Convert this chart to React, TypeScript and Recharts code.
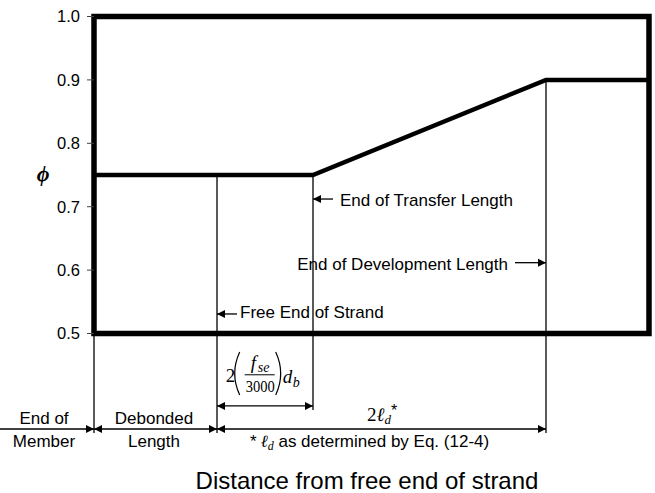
import React from 'react';
import { ComposedChart, Line, XAxis, YAxis, ReferenceArea, ReferenceLine, ReferenceDot } from 'recharts';

// Main phi curve (distance from free end of strand, phi)
const distance = [0, 123, 219, 452, 555];
const phiValues = [0.75, 0.75, 0.75, 0.9, 0.9];
const phiTicks = [0.5, 0.6, 0.7, 0.8, 0.9, 1.0];

// Vertical marker lines: member end, debond end, transfer end, development end
const markerX = [0, 123, 219, 452];
const markerTop = [0.5, 0.75, 0.75, 0.9];
const markerBottom = [0.3431, 0.3431, 0.3794, 0.3431];

// Arrows (data coordinates)
const arrowX1 = [-94, 0, 123, 123, 239, 421, 143];
const arrowX2 = [0, 123, 452, 219, 219, 452, 123];
const arrowY = [0.3494, 0.3494, 0.3494, 0.3857, 0.7121, 0.6117, 0.5308];
const arrowHeads = ['end', 'both', 'both', 'both', 'end', 'end', 'end'];

// Plain text labels
const labelText = ['End of', 'Member', 'Debonded', 'Length', 'End of Transfer Length', 'End of Development Length', 'Free End of Strand', 'Distance from free end of strand'];
const labelX = [-50, -50, 60, 60, 246, 414, 146, 273];
const labelY = [0.3573, 0.321, 0.3573, 0.321, 0.7016, 0.6002, 0.524, 0.2547];
const labelAnchor = ['middle', 'middle', 'middle', 'middle', 'start', 'end', 'start', 'middle'];
const labelSize = [17, 17, 17, 17, 17, 17, 17, 24];

const data = distance.map((d, i) => ({ d, phi: phiValues[i] }));

const SANS = 'Liberation Sans, Arial, sans-serif';
const SERIF = 'Liberation Serif, Times New Roman, serif';

const makeArrow = (heads: string) => (props: any) => {
  const { x1, y1, x2, y2 } = props;
  const dx = x2 - x1;
  const dy = y2 - y1;
  const len = Math.sqrt(dx * dx + dy * dy) || 1;
  const ux = dx / len;
  const uy = dy / len;
  const L = 8;
  const W = 4;
  const head = (px: number, py: number, sx: number, sy: number) => {
    const bx = px - sx * L;
    const by = py - sy * L;
    return (
      <polygon
        points={`${px},${py} ${bx - sy * W},${by + sx * W} ${bx + sy * W},${by - sx * W}`}
        fill="#000"
      />
    );
  };
  return (
    <g>
      <line x1={x1} y1={y1} x2={x2} y2={y2} stroke="#000" strokeWidth={1.3} />
      {(heads === 'end' || heads === 'both') && head(x2, y2, ux, uy)}
      {(heads === 'start' || heads === 'both') && head(x1, y1, -ux, -uy)}
    </g>
  );
};

const makeText = (text: string, anchor: string, size: number) => (props: any) => (
  <text x={props.cx} y={props.cy} textAnchor={anchor as any} fontFamily={SANS} fontSize={size} fill="#000">
    {text}
  </text>
);

const PhiLabel = (props: any) => (
  <text x={props.cx} y={props.cy} textAnchor="middle" fontFamily={SERIF} fontStyle="italic" fontWeight="bold" fontSize={22} fill="#000">
    ϕ
  </text>
);

const Formula = (props: any) => {
  const x = props.cx;
  const y = props.cy;
  return (
    <g fill="#000" fontFamily={SERIF}>
      <text x={x - 1} y={y + 1} fontSize={19}>2</text>
      <path d={`M${x + 13},${y - 29} Q${x + 3},${y - 7.5} ${x + 13},${y + 14}`} stroke="#000" strokeWidth={1.2} fill="none" />
      <path d={`M${x + 49},${y - 29} Q${x + 59},${y - 7.5} ${x + 49},${y + 14}`} stroke="#000" strokeWidth={1.2} fill="none" />
      <text x={x + 24} y={y - 12} fontSize={19} fontStyle="italic">f</text>
      <text x={x + 31} y={y - 9} fontSize={14} fontStyle="italic">se</text>
      <line x1={x + 18} y1={y - 6.2} x2={x + 48} y2={y - 6.2} stroke="#000" strokeWidth={1} />
      <text x={x + 19} y={y + 11} fontSize={16} textLength={29} lengthAdjust="spacingAndGlyphs">3000</text>
      <text x={x + 56} y={y + 2} fontSize={19} fontStyle="italic">d</text>
      <text x={x + 66} y={y + 6} fontSize={14} fontStyle="italic">b</text>
    </g>
  );
};

const TwoLd = (props: any) => {
  const x = props.cx;
  const y = props.cy;
  return (
    <text x={x} y={y} fontFamily={SERIF} fontSize={19} fill="#000">
      2<tspan fontStyle="italic">ℓ</tspan>
      <tspan fontStyle="italic" fontSize={13} dy={3}>d</tspan>
      <tspan fontFamily={SANS} fontSize={16} dy={-8}>*</tspan>
    </text>
  );
};

const Footnote = (props: any) => {
  const x = props.cx;
  const y = props.cy;
  return (
    <text x={x} y={y} fontFamily={SANS} fontSize={17} fill="#000">
      *<tspan dx={4} fontFamily={SERIF} fontStyle="italic">ℓ</tspan>
      <tspan fontFamily={SERIF} fontStyle="italic" fontSize={12} dy={3}>d</tspan>
      <tspan dy={-3}> as determined by Eq. (12-4)</tspan>
    </text>
  );
};

export default function App() {
  return (
    <div style={{ position: 'fixed', left: 0, top: 0, width: 655, height: 493, background: '#fff' }}>
      <ComposedChart
        width={655}
        height={493}
        data={data}
        margin={{ top: 16.5, right: 6, bottom: 159.5, left: 34 }}
      >
        <XAxis dataKey="d" type="number" domain={[0, 555]} hide />
        <YAxis
          type="number"
          domain={[0.5, 1.0]}
          ticks={phiTicks}
          tickFormatter={(v: number) => v.toFixed(1)}
          width={60}
          axisLine={false}
          tickLine={{ stroke: '#444' }}
          tickSize={7}
          tickMargin={7}
          tick={{ fill: '#000', fontSize: 16.5, fontFamily: SANS }}
          interval={0}
        />
        {markerX.map((x, i) => (
          <ReferenceLine
            key={`m${i}`}
            segment={[{ x, y: markerTop[i] }, { x, y: markerBottom[i] }]}
            ifOverflow="visible"
            stroke="#000"
            strokeWidth={1.3}
          />
        ))}
        {arrowX1.map((x1, i) => (
          <ReferenceLine
            key={`a${i}`}
            segment={[{ x: x1, y: arrowY[i] }, { x: arrowX2[i], y: arrowY[i] }]}
            ifOverflow="visible"
            shape={makeArrow(arrowHeads[i])}
          />
        ))}
        {labelText.map((t, i) => (
          <ReferenceDot
            key={`t${i}`}
            x={labelX[i]}
            y={labelY[i]}
            r={0}
            ifOverflow="visible"
            shape={makeText(t, labelAnchor[i], labelSize[i])}
          />
        ))}
        <ReferenceDot x={-51} y={0.7405} r={0} ifOverflow="visible" shape={PhiLabel} />
        <ReferenceDot x={132.7} y={0.4251} r={0} ifOverflow="visible" shape={Formula} />
        <ReferenceDot x={273} y={0.362} r={0} ifOverflow="visible" shape={TwoLd} />
        <ReferenceDot x={156} y={0.321} r={0} ifOverflow="visible" shape={Footnote} />
        <ReferenceArea
          x1={0}
          x2={555}
          y1={0.5}
          y2={1.0}
          ifOverflow="visible"
          fill="none"
          fillOpacity={0}
          stroke="#000"
          strokeWidth={5.5}
        />
        <Line
          dataKey="phi"
          type="linear"
          stroke="#000"
          strokeWidth={4.5}
          dot={false}
          activeDot={false}
          isAnimationActive={false}
        />
      </ComposedChart>
    </div>
  );
}
